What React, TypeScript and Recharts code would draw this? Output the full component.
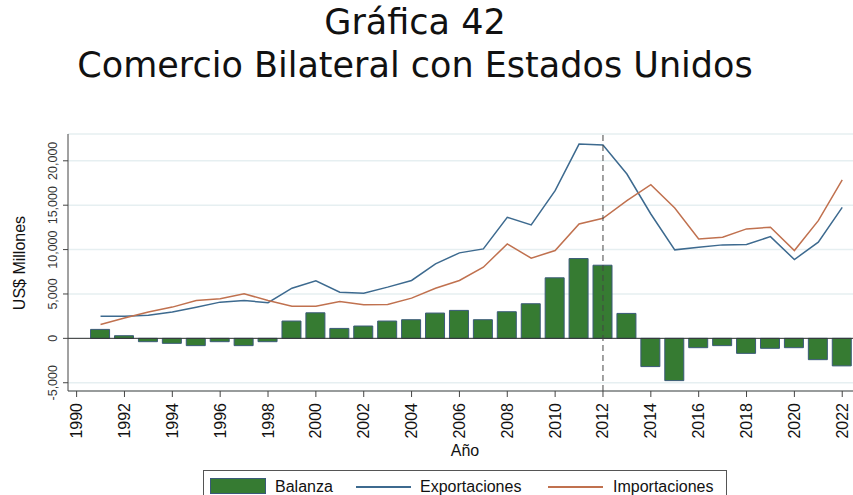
import React from "react";
import {
  ComposedChart,
  Bar,
  Line,
  XAxis,
  YAxis,
  CartesianGrid,
  ReferenceLine,
} from "recharts";

const years = [
  1991, 1992, 1993, 1994, 1995, 1996, 1997, 1998, 1999, 2000, 2001, 2002,
  2003, 2004, 2005, 2006, 2007, 2008, 2009, 2010, 2011, 2012, 2013, 2014,
  2015, 2016, 2017, 2018, 2019, 2020, 2021, 2022,
];

const exportaciones = [
  2500, 2500, 2600, 2960, 3500, 4080, 4270, 4010, 5650, 6480, 5200, 5090,
  5770, 6520, 8390, 9630, 10080, 13640, 12780, 16640, 21880, 21770, 18510,
  14010, 9970, 10260, 10530, 10570, 11460, 8880, 10830, 14760,
];

const importaciones = [
  1570, 2290, 2960, 3520, 4270, 4460, 5020, 4270, 3630, 3630, 4160, 3790,
  3820, 4530, 5650, 6520, 8010, 10640, 9030, 9890, 12890, 13520, 15510,
  17310, 14690, 11200, 11390, 12330, 12510, 9890, 13260, 17840,
];

const balanza = [
  1010, 300, -375, -560, -820, -375, -820, -375, 1950, 2880, 1120, 1390,
  1950, 2100, 2850, 3150, 2100, 3000, 3900, 6820, 8990, 8240, 2810, -3180,
  -4760, -1050, -820, -1690, -1120, -1050, -2400, -3100,
];

const xTicks = [
  1990, 1992, 1994, 1996, 1998, 2000, 2002, 2004, 2006, 2008, 2010, 2012,
  2014, 2016, 2018, 2020, 2022,
];
const yTicks = [-5000, 0, 5000, 10000, 15000, 20000];

const data = years.map((year, i) => ({
  year,
  balanza: balanza[i],
  exportaciones: exportaciones[i],
  importaciones: importaciones[i],
}));

const SANS = "'Liberation Sans', Arial, sans-serif";
const GREEN = "#367b32";
const BLUE = "#3d6a8f";
const ORANGE = "#c0714f";

const fmt = (v: number) => v.toLocaleString("en-US");

function YTick(props: any) {
  const { x, y, payload } = props;
  return (
    <text
      x={x - 4}
      y={y}
      transform={`rotate(-90 ${x - 4} ${y})`}
      textAnchor="middle"
      fontFamily={SANS}
      fontSize={12.5}
      fill="#333"
    >
      {fmt(payload.value)}
    </text>
  );
}

function XTick(props: any) {
  const { x, y, payload } = props;
  const ty = y + 4;
  return (
    <text
      x={x}
      y={ty}
      transform={`rotate(-90 ${x} ${ty})`}
      textAnchor="end"
      dominantBaseline="central"
      fontFamily={SANS}
      fontSize={16}
      fill="#111"
    >
      {payload.value}
    </text>
  );
}

function LegendBox() {
  const item: React.CSSProperties = {
    position: "absolute",
    top: 8,
    fontFamily: SANS,
    fontSize: 16,
    color: "#111",
    lineHeight: "16px",
  };
  return (
    <div
      style={{
        position: "absolute",
        left: 203,
        top: 470,
        width: 522,
        height: 40,
        border: "1px solid #555",
        background: "white",
      }}
    >
      <div
        style={{
          position: "absolute",
          left: 6,
          top: 7,
          width: 56,
          height: 16,
          background: GREEN,
          border: "1px solid #3a5a78",
          boxSizing: "border-box",
        }}
      />
      <span style={{ ...item, left: 71 }}>Balanza</span>
      <div
        style={{
          position: "absolute",
          left: 152,
          top: 15,
          width: 55,
          height: 2,
          background: BLUE,
        }}
      />
      <span style={{ ...item, left: 216 }}>Exportaciones</span>
      <div
        style={{
          position: "absolute",
          left: 344,
          top: 15,
          width: 55,
          height: 2,
          background: ORANGE,
        }}
      />
      <span style={{ ...item, left: 409 }}>Importaciones</span>
    </div>
  );
}

export default function App() {
  return (
    <div
      style={{
        position: "absolute",
        left: 0,
        top: 0,
        width: 853,
        height: 495,
        overflow: "hidden",
        background: "white",
      }}
    >
      <div
        style={{
          position: "absolute",
          left: 0,
          width: 830,
          top: 1,
          textAlign: "center",
          fontFamily: "'DejaVu Sans', Verdana, sans-serif",
          fontSize: 35,
          lineHeight: "43px",
          color: "#111",
        }}
      >
        Gráfica 42
        <br />
        Comercio Bilateral con Estados Unidos
      </div>
      <div style={{ position: "absolute", left: 0, top: 0 }}>
        <ComposedChart
          width={853}
          height={495}
          data={data}
          margin={{ top: 134, right: 0, bottom: 44, left: 0 }}
        >
          <CartesianGrid
            vertical={false}
            stroke="#e6eff1"
            strokeWidth={1.5}
          />
          <XAxis
            dataKey="year"
            type="number"
            domain={[1989.64, 2022.45]}
            ticks={xTicks}
            allowDataOverflow
            height={60}
            stroke="#444"
            tickSize={6}
            tick={<XTick />}
            interval={0}
          />
          <YAxis
            type="number"
            domain={[-5930, 23020]}
            ticks={yTicks}
            allowDataOverflow
            width={68}
            stroke="#444"
            tickSize={5}
            tick={<YTick />}
            interval={0}
          />
          <ReferenceLine y={0} stroke="#333" strokeWidth={1} />
          <Bar
            dataKey="balanza"
            fill={GREEN}
            stroke="#3a5a78"
            strokeWidth={1}
            barSize={19}
            isAnimationActive={false}
          />
          <Line
            dataKey="exportaciones"
            type="linear"
            stroke={BLUE}
            strokeWidth={1.5}
            dot={false}
            isAnimationActive={false}
          />
          <Line
            dataKey="importaciones"
            type="linear"
            stroke={ORANGE}
            strokeWidth={1.5}
            dot={false}
            isAnimationActive={false}
          />
          <ReferenceLine
            x={2012}
            stroke="#444"
            strokeDasharray="6 4"
            strokeWidth={1}
          />
        </ComposedChart>
      </div>
      <div
        style={{
          position: "absolute",
          left: 12,
          top: 263,
          transform: "translate(-50%, -50%) rotate(-90deg)",
          transformOrigin: "center",
          marginLeft: 8,
          fontFamily: SANS,
          fontSize: 16,
          color: "#111",
          whiteSpace: "nowrap",
        }}
      >
        US$ Millones
      </div>
      <div
        style={{
          position: "absolute",
          left: 465,
          top: 451,
          transform: "translate(-50%, -50%)",
          fontFamily: SANS,
          fontSize: 16,
          color: "#111",
        }}
      >
        Año
      </div>
      <LegendBox />
    </div>
  );
}
